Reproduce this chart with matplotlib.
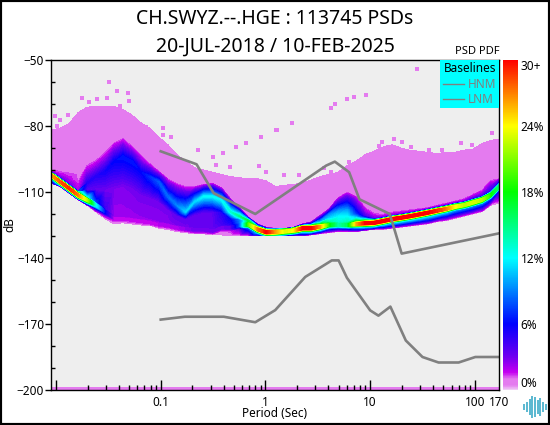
import numpy as np
import matplotlib
matplotlib.use("Agg")
import matplotlib.pyplot as plt
from matplotlib.colors import LinearSegmentedColormap, Normalize
from matplotlib.cm import ScalarMappable
from matplotlib.lines import Line2D
from matplotlib.patches import Rectangle
from matplotlib.ticker import FixedLocator, FixedFormatter, NullFormatter
from matplotlib.tri import Triangulation

plt.rcParams['font.family'] = ['Noto Sans', 'DejaVu Sans']

periods = [0.00896, 0.0109, 0.0133, 0.0162, 0.0197, 0.0240, 0.0293, 0.0357, 0.0435, 0.0530,
           0.0645, 0.0786, 0.0957, 0.117, 0.142, 0.173, 0.211, 0.257, 0.313, 0.381,
           0.464, 0.565, 0.689, 0.839, 1.02, 1.245, 1.52, 1.85, 2.25, 2.74,
           3.34, 4.07, 4.96, 6.04, 7.36, 8.96, 10.9, 13.3, 16.2, 19.7,
           24.0, 29.3, 35.7, 43.5, 53.0, 64.5, 78.6, 95.7, 117, 142, 170]

# outer top edge of the pink cloud (dB)
top_db = [-82, -81, -79, -74, -71.5, -71, -71, -71, -72.5, -75,
          -78.5, -81, -85, -88.5, -93, -96, -99, -100, -101, -102,
          -103, -103.5, -104, -104, -105, -107.5, -107, -106.5, -106, -104.5,
          -103, -102, -101, -98, -96, -93, -91.5, -89.5, -88.5, -90,
          -91, -91.5, -92, -92.5, -92, -92, -91, -90.5, -88, -86.5, -86]
# where pink turns to magenta
edge_db = [-100, -100.5, -101, -101.5, -97.7, -95.5, -92, -87.5, -85.5, -89,
           -93, -97, -100.5, -104, -106, -107.5, -107.5, -106.5, -106, -108,
           -113, -117, -121.5, -124.5, -126, -126.5, -126.5, -126, -124.5, -123.5,
           -120.5, -117.5, -112.5, -110, -112, -117, -119.5, -120, -119, -118.5,
           -118, -117.5, -117, -116, -115, -114, -113, -111, -109, -104.5, -104]
# upper blue band and the hump at 5 s
band_db = [-101, -103.5, -106.5, -109.5, -106, -103, -100.8, -96.2, -94, -96,
           -100.8, -103, -105.3, -112, -116, -119, -114.4, -112, -112, -113.6,
           -119, -121, -123, -125.5, -126.7, -126.7, -126.6, -126.2, -125, -124.5,
           -122.5, -120, -119, -118.5, -120, -121, -122, -121.6, -120.7, -120.1,
           -119.4, -118.6, -117.8, -116.9, -116.1, -115.1, -114.4, -113.2, -112, -109.8, -106]
band_pct = [3, 3, 3, 2, 5, 5, 5.5, 6, 6.5, 6.5,
            6, 7, 8, 8.5, 9, 11, 11, 12, 12, 12,
            13, 15, 17, 10, 6, 5, 5, 5, 6, 6,
            7, 9, 10, 10, 7, 4, 3, 3, 3, 3,
            3, 3, 3, 3, 3, 3, 3, 4, 4, 5, 6]
# level between the band and the main ridge
mid_pct = [8, 8, 8, 8, 3.5, 3.2, 3, 2.8, 2.8, 2.9,
           3, 3, 3, 3, 3.5, 3.5, 3.5, 3.5, 3.5, 5,
           6, 9, 15, 16, 14, 12, 12, 12, 12, 12,
           10, 11, 12, 12, 11, 9, 8, 8, 8, 8,
           8, 8, 8, 8, 8, 8, 8, 8, 8, 9, 9]
# main ridge of the PDF
ridge_db = [-102.3, -105.3, -108.3, -111.4, -113.6, -116, -119, -122, -122, -122.5,
            -123, -123.5, -124.5, -125, -126, -126.5, -127, -127, -127.5, -126,
            -126, -125, -124.8, -127, -128.3, -128.3, -128, -127.5, -126.5, -126.5,
            -125.8, -125, -125, -125, -124.5, -124.2, -124, -123.2, -122.3, -121.7,
            -121, -120.2, -119.4, -118.5, -117.7, -116.7, -116, -114.8, -113.6, -111.4, -107.6]
ridge_pct = [26, 28, 29, 27, 22, 12, 6, 1.6, 1.6, 1.6,
             1.7, 1.8, 1.8, 2, 2, 2.5, 3, 3, 3, 3,
             3.5, 8, 20, 27, 30, 26, 23, 24, 30, 30,
             26, 18, 14, 16, 26, 30, 30, 30, 30, 30,
             30, 30, 30, 29, 27, 24, 22, 23, 22, 18, 15]
# lower edge of the cloud
floor_db = [-106, -107.5, -110.5, -113.5, -116, -119, -122, -124.5, -124, -124.5,
            -125, -125, -126.5, -127, -128, -128.5, -129, -129, -129.5, -129.5,
            -130, -130, -130, -130, -130, -130, -130, -130, -130, -129.5,
            -129, -128.5, -128, -128, -128, -127.5, -127, -127, -126.5, -126,
            -125.5, -125, -124.5, -123.5, -123, -122, -121, -120, -119, -116, -115]

# isolated cells above the cloud
speck_log = [-1.495, -1.422, -1.311, -1.756, -1.302, -1.683, -1.606, -1.511, -1.390, -2.01,
             -1.883, -1.962, -1.803, -1.597, -1.994, -0.978, -1.137, -0.978, -0.898, -0.644,
             -0.851, -0.502, -0.406, -0.279, -0.184, -0.041, 0.102, -0.470, -0.343, -0.168,
             -0.057, 0.006, 1.451, 0.965, 0.848, 0.775, 0.667, 0.625, 0.254, 0.108,
             1.117, 1.229, 1.308, 1.086, 1.387, 1.562, 1.689, 1.863, 1.975, 2.165,
             0.8, 0.959, 0.562, 0.625, 0.181, 0.324]
speck_db = [-60, -63.9, -64.8, -67.4, -68.8, -68.9, -67.9, -67.4, -70.9, -75.5,
            -74.8, -77.3, -77, -77, -80, -81, -80.6, -84, -84.8, -90.9,
            -93.9, -94.2, -92.4, -89.4, -87.9, -84.8, -81.8, -97.7, -98.5, -106,
            -98.2, -100.8, -54.1, -65.9, -67, -67.9, -70, -72, -78.8, -81.8,
            -87.1, -86.1, -87.1, -89.1, -89.4, -90.9, -90.9, -87.9, -88.6, -83,
            -96.2, -94.7, -99.2, -100.8, -102.3, -102.3]

hnm_period = [0.1, 0.22, 0.32, 0.8, 3.8, 4.6, 6.3, 7.9, 15.4, 20, 170]
hnm_db = [-91.5, -97.4, -110.5, -120, -98, -96.2, -101, -113.3, -120, -138, -128.8]
lnm_period = [0.1, 0.17, 0.4, 0.8, 1.24, 2.4, 4.3, 5, 6, 10, 12, 15.6, 21.9, 31.6, 45, 70, 101, 154, 170]
lnm_db = [-168, -166.7, -166.7, -169.2, -163.7, -148.6, -141.1, -141.1, -149, -163.8, -166.2,
          -162.1, -177.5, -185, -187.5, -187.5, -185, -185, -185]

pct_ticks = [0, 6, 12, 18, 24, 30]
pct_labels = ["0%", "6%", "12%", "18%", "24%", "30+"]
logo_heights = [6, 10, 18, 24, 21, 16, 19, 11, 6]

# colour scale of the bar, value in percent
stops = [(0, "#f0ccf6"), (0.4, "#e47bef"), (0.95, "#e47bef"), (1.6, "#c400f0"), (3, "#7000f0"),
         (6, "#0000ff"), (9, "#0080ff"), (12, "#00ffff"), (15, "#00ff80"), (18, "#00ff00"),
         (21, "#80ff00"), (24, "#ffff00"), (27, "#ff8000"), (30, "#ff0000")]
cmap = LinearSegmentedColormap.from_list("pdf", [(v / 30, c) for v, c in stops], N=512)
norm = Normalize(0, 30)

fig = plt.figure(figsize=(5.5, 4.25), dpi=100)
ax = fig.add_axes([51 / 550, 35 / 425, 448 / 550, 330 / 425])
ax.set_facecolor("#eeeeee")

# curved mesh that follows the ridge, top row first
period = np.array(periods)
top = np.array(top_db, float)
edge = np.array(edge_db, float)
band = np.array(band_db, float)
ridge = np.array(ridge_db, float)
ridge_hi = ridge + 1.2
ones = np.ones_like(top)
Y = np.array([top, edge, (edge + band) / 2, band, (band + ridge_hi) / 2, ridge_hi, ridge + 0.6,
              ridge - 0.6, ridge - 1.6, np.array(floor_db, float)])
bp, mp, rp = np.array(band_pct), np.array(mid_pct), np.array(ridge_pct)
Z = np.array([ones * 0.5, ones, np.maximum(bp * 0.55, 1), bp, mp, 0.45 * rp + 0.55 * mp, rp,
              rp, np.maximum(0.4 * rp, 1), ones * 0.5])
X = np.tile(period, (Y.shape[0], 1))

nr, nc = Y.shape
tris = []
for r in range(nr - 1):
    for c in range(nc - 1):
        a = r * nc + c
        tris.append([a, a + 1, a + nc])
        tris.append([a + 1, a + nc + 1, a + nc])
tri = Triangulation(X.ravel(), Y.ravel(), np.array(tris))
ax.tricontourf(tri, Z.ravel(), levels=np.linspace(0.45, 30.5, 90), cmap=cmap, norm=norm, antialiased=False)
ax.scatter(10 ** np.array(speck_log), speck_db, marker="s", s=5, color="#e47bef", linewidths=0)
ax.axhspan(-200, -198.6, color="#e47bef", lw=0)

ax.plot(hnm_period, hnm_db, color="#808080", lw=1.9)
ax.plot(lnm_period, lnm_db, color="#808080", lw=1.9)

ax.set_xscale("log")
ax.set_xlim(0.00896, 170)
ax.set_ylim(-200, -50)
ax.xaxis.set_major_locator(FixedLocator([0.01, 0.1, 1, 10, 100]))
ax.xaxis.set_major_formatter(FixedFormatter(["", "0.1", "1", "10", "100"]))
minor = [m * 10.0 ** e for e in range(-2, 3) for m in range(2, 10)]
ax.xaxis.set_minor_locator(FixedLocator([m for m in minor if m < 170]))
ax.xaxis.set_minor_formatter(NullFormatter())
ax.set_yticks([-200, -170, -140, -110, -80, -50])
ax.set_yticks([-190, -180, -160, -150, -130, -120, -100, -90, -70, -60], minor=True)
ax.tick_params(axis="x", which="major", direction="in", length=7, width=1, labelsize=8.5, pad=4)
ax.tick_params(axis="x", which="minor", direction="in", length=3.5, width=1)
ax.tick_params(axis="y", which="major", direction="out", length=4, width=1, labelsize=8.5, pad=1)
ax.tick_params(axis="y", which="minor", direction="in", length=3, width=1)
ax.set_xlabel("Period (Sec)", fontsize=8.5, labelpad=-1)
ax.set_ylabel("dB", fontsize=8.5, labelpad=0)
ax.text(170, -202.5, "170", fontsize=8.5, ha="center", va="top")
for s in ax.spines.values():
    s.set_linewidth(1)

leg = ax.legend(handles=[Line2D([], [], color="#808080", lw=1, label="HNM"),
                         Line2D([], [], color="#808080", lw=1, label="LNM")],
                title="Baselines", loc="upper right", bbox_to_anchor=(1, 1), borderaxespad=0,
                facecolor="#00ffff", edgecolor="none", framealpha=1, fancybox=False, fontsize=8.5,
                title_fontsize=8.5, labelcolor="#808080", handlelength=1.8, handletextpad=0.35,
                borderpad=0.2, labelspacing=0.2)

cax = fig.add_axes([503 / 550, 35 / 425, 15 / 550, 330 / 425])
cb = fig.colorbar(ScalarMappable(norm=norm, cmap=cmap), cax=cax, ticks=pct_ticks)
cb.outline.set_visible(False)
cb.ax.tick_params(length=0, labelsize=8.5, pad=2)
cb.ax.set_yticklabels(pct_labels)
labs = cb.ax.get_yticklabels()
labs[0].set_va("bottom")
labs[-1].set_va("top")

fig.text(500 / 550, 1 - 52 / 425, "PSD PDF", fontsize=8, ha="right", va="center")
fig.text(275 / 550, 1 - 19.5 / 425, "CH.SWYZ.--.HGE : 113745 PSDs", fontsize=14, ha="center", va="center")
fig.text(275 / 550, 1 - 46.5 / 425, "20-JUL-2018 / 10-FEB-2025", fontsize=14, ha="center", va="center")

# small waveform mark in the corner
lax = fig.add_axes([523 / 550, 5 / 425, 24 / 550, 26 / 425])
lax.axis("off")
lax.vlines(np.arange(len(logo_heights)), -np.array(logo_heights) / 2, np.array(logo_heights) / 2,
           color="#5ab8d0", lw=1.4)
lax.set_ylim(-14, 14)

fig.add_artist(Rectangle((0, 0), 1, 1, transform=fig.transFigure, fill=False, edgecolor="black", lw=3))

fig.savefig("out.png", dpi=100)
